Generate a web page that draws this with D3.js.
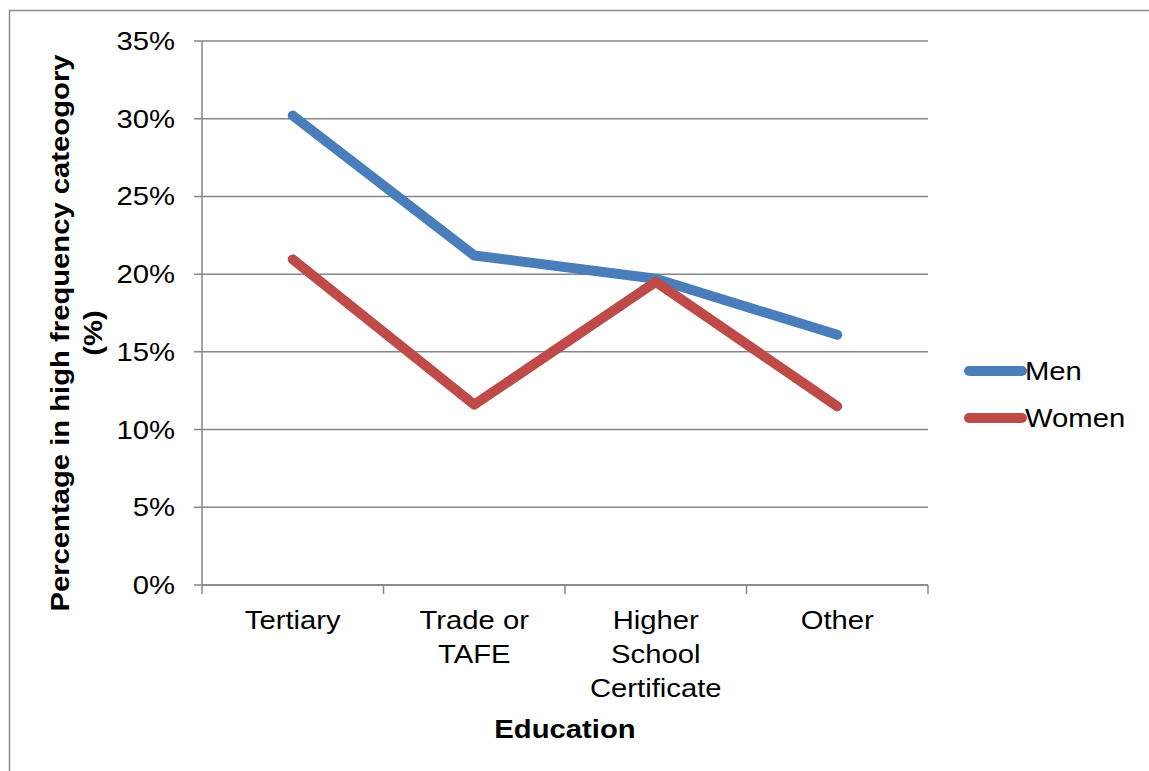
<!DOCTYPE html>
<html>
<head>
<meta charset="utf-8">
<script src="https://cdn.jsdelivr.net/npm/d3@7"></script>
<style>
	body { margin: 0; background: #fff; }
	text { font-family: "Liberation Sans", Arial, sans-serif; fill: #000; }
</style>
</head>
<body>
<div id="chart"></div>
<script>
	// data
	var categories = [['Tertiary'], ['Trade or', 'TAFE'], ['Higher', 'School', 'Certificate'], ['Other']];
	var seriesNames = ['Men', 'Women'];
	var menValues = [30.2, 21.2, 19.7, 16.1];
	var womenValues = [20.95, 11.6, 19.5, 11.5];
	var yTicks = [0, 5, 10, 15, 20, 25, 30, 35];
	var colors = ['#4a7ebb', '#be4b48'];

	var width = 1149, height = 771;
	var margin = {top: 41, left: 202, right: 221, bottom: 186};
	var plotW = width - margin.left - margin.right,
		plotH = height - margin.top - margin.bottom;
	var fontSize = '25px';
	var stretch = 'scale(1.17,1)'; // the source text is a bit wider than Arial

	var svg = d3.select('#chart')
		.append('svg')
		.attr('width', width)
		.attr('height', height);

	// outer frame (only top and left edges are visible)
	svg.append('path')
		.attr('d', 'M9.5,' + height + 'V10.5H' + width)
		.attr('fill', 'none')
		.attr('stroke', '#8c8c8c')
		.attr('stroke-width', 1.5);

	var g = svg.append('g')
		.attr('transform', 'translate(' + margin.left + ',' + margin.top + ')');

	var x = d3.scaleBand()
		.domain(d3.range(categories.length))
		.range([0, plotW]);
	var y = d3.scaleLinear()
		.domain([0, 35])
		.range([plotH, 0]);

	// gridlines
	g.append('g')
		.selectAll('line')
		.data(yTicks)
		.enter()
		.append('line')
		.attr('x1', -8)
		.attr('x2', plotW)
		.attr('y1', function (d) { return y(d); })
		.attr('y2', function (d) { return y(d); })
		.attr('stroke', '#868686')
		.attr('stroke-width', 1.5);

	// y tick labels
	g.append('g')
		.selectAll('text')
		.data(yTicks)
		.enter()
		.append('text')
		.attr('transform', function (d) { return 'translate(-27,' + y(d) + ') ' + stretch; })
		.attr('dy', '0.36em')
		.attr('text-anchor', 'end')
		.style('font-size', fontSize)
		.text(function (d) { return d + '%'; });

	// y axis line
	g.append('line')
		.attr('x1', 0).attr('x2', 0)
		.attr('y1', 0).attr('y2', plotH)
		.attr('stroke', '#868686')
		.attr('stroke-width', 1.5);

	// x axis with tick marks at band edges
	var xAxis = g.append('g')
		.attr('transform', 'translate(0,' + plotH + ')');
	xAxis.append('line')
		.attr('x1', 0).attr('x2', plotW)
		.attr('stroke', '#868686')
		.attr('stroke-width', 1.5);
	xAxis.selectAll('.tick')
		.data(d3.range(categories.length + 1))
		.enter()
		.append('line')
		.attr('x1', function (d) { return d * x.bandwidth(); })
		.attr('x2', function (d) { return d * x.bandwidth(); })
		.attr('y1', 0).attr('y2', 9)
		.attr('stroke', '#868686')
		.attr('stroke-width', 1.5);

	var catLabels = xAxis.selectAll('.cat')
		.data(categories)
		.enter()
		.append('text')
		.attr('text-anchor', 'middle')
		.attr('transform', function (d, i) {
			return 'translate(' + (x(i) + x.bandwidth() / 2) + ',44) ' + stretch;
		})
		.style('font-size', fontSize);
	catLabels.selectAll('tspan')
		.data(function (d) { return d; })
		.enter()
		.append('tspan')
		.attr('x', 0)
		.attr('y', function (d, i) { return i * 34; })
		.text(function (d) { return d; });

	// lines
	var line = d3.line()
		.x(function (d, i) { return x(i) + x.bandwidth() / 2; })
		.y(function (d) { return y(d); });

	[menValues, womenValues].forEach(function (vals, k) {
		g.append('path')
			.datum(vals)
			.attr('fill', 'none')
			.attr('stroke', colors[k])
			.attr('stroke-width', 10)
			.attr('stroke-linejoin', 'round')
			.attr('stroke-linecap', 'round')
			.attr('d', line);
	});

	// axis titles
	svg.append('text')
		.attr('transform', 'translate(' + (margin.left + plotW / 2) + ',738) ' + stretch)
		.attr('text-anchor', 'middle')
		.style('font-size', fontSize)
		.style('font-weight', 'bold')
		.text('Education');

	var yTitle = svg.append('text')
		.attr('transform', 'translate(69,333) rotate(-90) ' + stretch)
		.attr('text-anchor', 'middle')
		.style('font-size', fontSize)
		.style('font-weight', 'bold');
	yTitle.append('tspan').attr('x', 0).attr('y', 0).text('Percentage in high frequency cateogory');
	yTitle.append('tspan').attr('x', 0).attr('y', 33).text('(%)');

	// legend
	var legend = svg.append('g')
		.selectAll('g')
		.data(seriesNames)
		.enter()
		.append('g')
		.attr('transform', function (d, i) { return 'translate(969,' + (371 + i * 47) + ')'; });
	legend.append('line')
		.attr('x1', 0).attr('x2', 53)
		.attr('stroke', function (d, i) { return colors[i]; })
		.attr('stroke-width', 10)
		.attr('stroke-linecap', 'round');
	legend.append('text')
		.attr('transform', 'translate(56,0) ' + stretch)
		.attr('dy', '0.36em')
		.style('font-size', fontSize)
		.text(function (d) { return d; });
</script>
</body>
</html>
